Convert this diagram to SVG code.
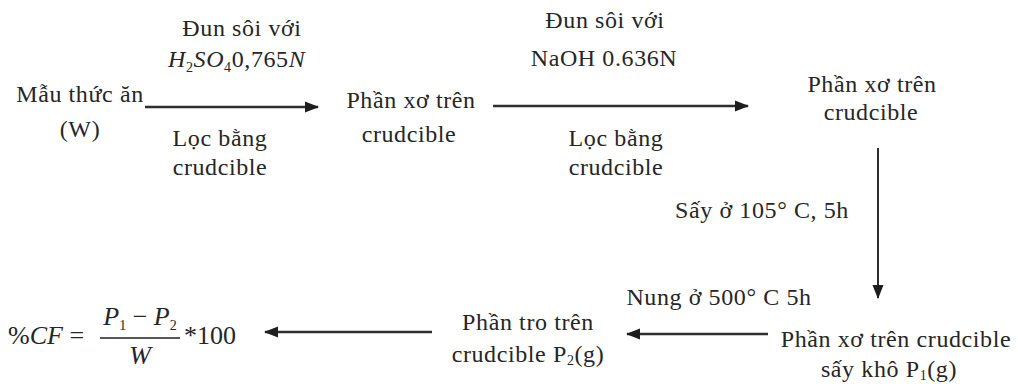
<svg xmlns="http://www.w3.org/2000/svg" width="1018" height="384" viewBox="0 0 1018 384">
<style>
text{font-family:"Liberation Serif","Times New Roman",serif;font-size:24px;fill:#262626;letter-spacing:0.6px}
.m{text-anchor:middle}
.i{font-style:italic}
.f{font-size:26px;letter-spacing:0}
.sub{font-size:14px}
.c line{stroke:#2e2e2e;stroke-width:2.6}
.c line.v{stroke-width:2}
</style>
<defs>
<marker id="ah" markerWidth="14" markerHeight="12" refX="13" refY="6" orient="auto" markerUnits="userSpaceOnUse">
<path d="M0,0.5 L14,6 L0,11.5 Z" fill="#1e1e1e"/>
</marker>
</defs>
<rect width="1018" height="384" fill="#fff"/>

<g id="connectors" class="c">
<line x1="145" y1="107" x2="318" y2="107" marker-end="url(#ah)"/>
<line x1="493" y1="106" x2="748" y2="106" marker-end="url(#ah)"/>
<line class="v" x1="878" y1="148" x2="878" y2="298" marker-end="url(#ah)"/>
<line x1="768" y1="334" x2="627" y2="334" marker-end="url(#ah)"/>
<line x1="432" y1="332" x2="265" y2="332" marker-end="url(#ah)"/>
</g>

<g id="labels">
<text class="m" x="242" y="36">Đun sôi với</text>
<text x="168" y="67"><tspan class="i">H</tspan><tspan class="sub" dy="5">2</tspan><tspan class="i" dy="-5">SO</tspan><tspan class="sub" dy="5">4</tspan><tspan dy="-5">0,765</tspan><tspan class="i">N</tspan></text>
<text class="m" x="220" y="146">Lọc bằng</text>
<text class="m" x="220" y="175">crudcible</text>
<text class="m" x="605" y="28">Đun sôi với</text>
<text class="m" x="604" y="66">NaOH 0.636N</text>
<text class="m" x="616" y="146">Lọc bằng</text>
<text class="m" x="616" y="175">crudcible</text>
<text class="m" x="762" y="218">Sấy ở 105° C, 5h</text>
<text class="m" x="719" y="305">Nung ở 500° C 5h</text>
</g>

<g id="n1">
<text class="m" x="80" y="102">Mẫu thức ăn</text>
<text class="m" x="80" y="137">(W)</text>
</g>
<g id="n2">
<text class="m" x="411" y="108">Phần xơ trên</text>
<text class="m" x="409" y="142">crudcible</text>
</g>
<g id="n3">
<text class="m" x="872" y="92">Phần xơ trên</text>
<text class="m" x="871" y="120">crudcible</text>
</g>
<g id="n4">
<text class="m" x="896" y="347">Phần xơ trên crudcible</text>
<text class="m" x="889" y="377">sấy khô P<tspan class="sub" dy="3">1</tspan><tspan dy="-3">(g)</tspan></text>
</g>
<g id="n5">
<text class="m" x="528" y="330">Phần tro trên</text>
<text class="m" x="528" y="362">crudcible P<tspan class="sub" dy="3">2</tspan><tspan dy="-3">(g)</tspan></text>
</g>
<g id="n6">
<text class="f" x="8" y="344">%<tspan class="i">CF</tspan> =</text>
<text class="f m" x="140" y="325"><tspan class="i">P</tspan><tspan class="sub" dy="5">1</tspan><tspan dy="-5"> − </tspan><tspan class="i">P</tspan><tspan class="sub" dy="5">2</tspan></text>
<line x1="100" y1="338" x2="180" y2="338" stroke="#1e1e1e" stroke-width="1.6"/>
<text class="f i m" x="140" y="364">W</text>
<text class="f" x="184" y="344">*100</text>
</g>
</svg>
